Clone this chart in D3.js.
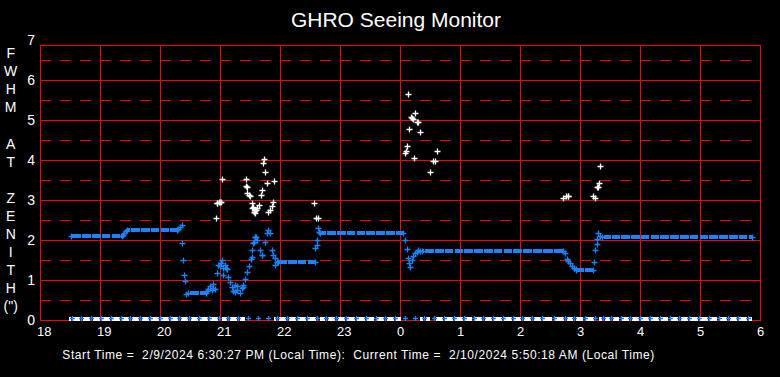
<!DOCTYPE html>
<html><head><meta charset="utf-8">
<script src="https://cdn.jsdelivr.net/npm/d3@7"></script>
<style>html,body{margin:0;background:#000;overflow:hidden}svg{display:block}</style>
</head><body>
<svg id="c" width="780" height="377"></svg>
<script>
const title = "GHRO Seeing Monitor";
const yLabelLines = ["F","W","H","M","","A","T","","Z","E","N","I","T","H","(\")"];
const footer = "Start Time =  2/9/2024 6:30:27 PM (Local Time):  Current Time =  2/10/2024 5:50:18 AM (Local Time)";
const hourTicks = [18,19,20,21,22,23,24,25,26,27,28,29,30];
const hourLabels = ["18","19","20","21","22","23","0","1","2","3","4","5","6"];
const fwhmTicks = [0,1,2,3,4,5,6,7];
const fwhmHalfTicks = [0.5,1.5,2.5,3.5,4.5,5.5,6.5];
const fwhmFrameTop = 6.875;

// steady blue FWHM runs: [startHour, endHour, fwhm]
const blueRuns = [
  [18.51,19.36,2.10],[19.45,20.28,2.24],[20.46,20.76,0.67],[21.97,22.58,1.46],
  [22.67,24.045,2.17],[24.36,26.72,1.73],[26.94,27.22,1.25],[27.36,29.86,2.07]
];
// individual blue FWHM samples: [hour, fwhm]
const blueScatter = [
  [19.38,2.13],[19.40,2.18],[19.43,2.22],
  [20.30,2.27],[20.33,2.33],[20.36,2.37],
  [20.372,1.92],[20.388,1.49],[20.405,1.12],[20.422,0.98],[20.438,0.64],
  [20.783,0.72],[20.808,0.78],[20.833,0.85],[20.862,0.75],[20.885,0.89],[20.888,0.79],[20.917,0.77],
  [20.945,1.17],[20.972,1.37],[21.0,1.35],[21.017,1.42],[21.028,1.5],[21.055,1.29],[21.055,1.12],
  [21.083,1.37],[21.1,1.30],[21.112,1.27],[21.138,1.08],[21.167,0.96],[21.195,0.83],[21.222,0.73],
  [21.25,0.88],[21.25,0.71],[21.278,0.75],[21.278,0.86],[21.333,0.68],[21.362,0.79],[21.378,0.83],
  [21.388,0.88],[21.417,1.02],[21.445,1.19],[21.483,1.34],[21.512,1.53],[21.528,1.58],[21.538,1.75],
  [21.555,1.92],[21.567,1.96],[21.583,2.08],[21.59,2.08],[21.6,2.08],[21.622,2.0],[21.667,1.75],
  [21.695,1.63],[21.70,1.63],[21.75,1.96],[21.778,2.17],[21.805,2.25],[21.833,2.17],[21.862,1.75],
  [21.878,1.63],[21.917,1.54],[21.917,1.37],[21.945,1.46],
  [22.583,1.79],[22.612,2.0],[22.612,1.88],[22.638,2.29],[22.65,2.2],
  [24.083,2.0],[24.112,1.77],[24.138,1.54],[24.155,1.42],[24.167,1.33],[24.195,1.5],[24.222,1.6],
  [24.25,1.67],[24.278,1.7],[24.305,1.75],[24.333,1.73],
  [26.75,1.67],[26.778,1.52],[26.8,1.48],[26.833,1.42],[26.867,1.36],[26.9,1.3],[26.925,1.27],
  [27.24,1.44],[27.25,1.75],[27.278,1.89],[27.288,2.02],[27.305,2.17],[27.333,2.1]
];
// blue samples at zero, minutes after 18:00
const blueZeroMinutes = [
  31.7,41.5,51.3,61.1,70.9,80.7,90.5,100.3,110.1,119.9,129.7,139.5,149.3,159.1,168.9,
  178.7,188.5,198.3,208.1,217.9,227.7,237.5,247.3,257.1,266.9,276.7,286.5,296.3,306.1,
  315.9,325.7,335.5,345.3,355.1,364.9,374.7,384.5,394.3,404.1,413.9,423.7,433.5,443.3,
  453.1,462.9,472.7,482.5,492.3,502.1,513.5,525,534.5,544.5,554.6,563.5,571.5,580.5,
  590.3,600.1,609.9,619.7,629.5,639.3,649.1,658.9,668.7,678.5,688.3,698.1,707.9
];
// white samples: runs at zero [startHour, endHour]
const whiteZeroRuns = [
  [18.497,20.947],[21.045,21.405],[21.917,22.577],[22.683,24.007],
  [24.35,24.483],[24.617,26.723],[26.8,27.217],[27.333,29.845]
];
// white individual samples [hour, fwhm]
const whiteScatter = [
  [20.933,2.56],[20.945,2.92],[20.955,2.92],[20.99,2.94],[21.005,2.95],[21.017,2.95],[21.038,3.52],
  [21.428,3.52],[21.433,3.35],[21.445,3.33],[21.455,3.18],[21.488,3.13],[21.5,3.10],[21.528,2.93],
  [21.528,2.79],[21.555,2.83],[21.567,2.71],[21.583,2.75],[21.59,2.67],[21.6,2.75],[21.62,2.80],
  [21.655,2.88],[21.678,3.13],[21.695,3.25],[21.722,3.92],[21.733,4.02],[21.755,3.69],[21.778,3.42],
  [21.805,2.71],[21.833,2.75],[21.862,2.85],[21.888,2.96],[21.9,3.47],
  [22.572,2.92],[22.598,2.54],[22.625,2.54],
  [24.083,4.17],[24.1,4.23],[24.122,4.35],[24.138,5.64],[24.155,4.77],[24.178,5.07],[24.2,5.05],
  [24.222,5.02],[24.238,4.04],[24.25,5.17],[24.28,4.94],[24.305,4.94],[24.333,4.69],
  [24.5,3.69],[24.55,3.98],[24.583,3.98],[24.612,4.23],
  [26.722,3.04],[26.767,3.11],[26.792,3.11],[26.805,3.10],
  [27.222,3.10],[27.25,3.04],[27.275,3.32],[27.3,3.32],[27.322,3.42],[27.338,3.85]
];

const RED = "#ff0000", BLUE = "#1e82fa", WHITE = "#ffffff";
const FONT = "'Liberation Sans', Arial, sans-serif";
const svg = d3.select("#c");
svg.append("rect").attr("width",780).attr("height",377).attr("fill","#000");

const x = d3.scaleLinear().domain([18,30]).range([40,760]);
const y = d3.scaleLinear().domain([0,7]).range([320,40]);
const px = v => Math.round(v) + 0.5;

const grid = svg.append("g").attr("stroke",RED).attr("stroke-width",1).attr("shape-rendering","crispEdges");
grid.selectAll("line.dash").data(fwhmHalfTicks).join("line")
  .attr("x1",x(18)).attr("x2",x(30)).attr("y1",d=>px(y(d))).attr("y2",d=>px(y(d)))
  .attr("stroke-dasharray","11,9");
grid.selectAll("line.h").data(fwhmTicks.filter(d=>d>0 && d<fwhmFrameTop)).join("line")
  .attr("x1",x(18)).attr("x2",x(30)).attr("y1",d=>px(y(d))).attr("y2",d=>px(y(d)));
grid.selectAll("line.v").data(hourTicks).join("line")
  .attr("x1",d=>px(x(d))).attr("x2",d=>px(x(d))).attr("y1",y(fwhmFrameTop)).attr("y2",y(0));
grid.append("rect").attr("x",px(x(18))).attr("y",px(y(fwhmFrameTop)))
  .attr("width",Math.round(x(30)-x(18))).attr("height",Math.round(y(0)-y(fwhmFrameTop)))
  .attr("fill","none");

// axes
const xAxis = svg.append("g").attr("transform",`translate(0,${y(0)})`)
  .call(d3.axisBottom(x).tickValues(hourTicks).tickFormat((d,i)=>hourLabels[i]).tickSize(0).tickPadding(6.5));
xAxis.select(".domain").remove();
xAxis.selectAll("text").attr("fill",WHITE).attr("font-family",FONT).attr("font-size",13)
  .attr("text-anchor","start").attr("dx",-3.5);

const yAxis = svg.append("g").attr("transform",`translate(${x(18)},0)`)
  .call(d3.axisLeft(y).tickValues(fwhmTicks).tickFormat(d3.format("d")).tickSize(0).tickPadding(5));
yAxis.select(".domain").remove();
yAxis.selectAll("text").attr("fill",WHITE).attr("font-family",FONT).attr("font-size",14);

// title
svg.append("text").attr("x",396).attr("y",27).attr("text-anchor","middle")
  .attr("fill",WHITE).attr("font-family",FONT).attr("font-size",21).text(title);

// vertical y label
svg.append("g").selectAll("text").data(yLabelLines).join("text")
  .attr("x",10.7).attr("y",(d,i)=>58.3 + i*18.05).attr("text-anchor","middle")
  .attr("fill",WHITE).attr("font-family",FONT).attr("font-size",14).text(d=>d);

// footer
svg.append("text").attr("x",62.3).attr("y",359).attr("fill",WHITE)
  .attr("font-family",FONT).attr("font-size",12).attr("xml:space","preserve")
  .style("white-space","pre").attr("textLength",592).attr("lengthAdjust","spacing").text(footer);

const plus = "M-3,0H3M0,-3V3";
const plusSmall = "M-2.5,0H2.5M0,-2.5V2.5";
const zeroHours = blueZeroMinutes.map(m => 18 + m/60);

function pieces(s, e){
  const cuts = zeroHours.filter(h => h > s && h < e);
  const pts = [{h:s,z:false}, ...cuts.map(h=>({h,z:true})), {h:e,z:false}];
  const out = [];
  for (let i=0;i<pts.length-1;i++) out.push([pts[i], pts[i+1]]);
  return out;
}

// white zero runs (bottom)
const wz = svg.append("g").attr("fill",WHITE).attr("shape-rendering","crispEdges");
whiteZeroRuns.forEach(([s,e]) => {
  pieces(s,e).forEach(([a,b]) => {
    const x0 = x(a.h) + (a.z?1.2:-1), x1 = x(b.h) - (b.z?1.2:-1);
    if (x1 > x0) wz.append("rect").attr("x",x0).attr("y",y(0)-3.5).attr("width",x1-x0).attr("height",4);
  });
});

// white scatter
svg.append("g").attr("stroke",WHITE).attr("stroke-width",1.3).attr("fill","none")
  .selectAll("path").data(whiteScatter).join("path")
  .attr("transform",d=>`translate(${Math.round(x(d[0]))+0.5},${Math.round(y(d[1]))+0.5})`).attr("d",plus);

// blue runs
const br = svg.append("g").attr("fill",BLUE).attr("shape-rendering","crispEdges");
blueRuns.forEach(([s,e,v]) => {
  pieces(s,e).forEach(([a,b]) => {
    const x0 = x(a.h) + (a.z?0.6:0), x1 = x(b.h) - (b.z?0.6:0);
    if (x1 > x0) br.append("rect").attr("x",x0).attr("y",y(v)-2).attr("width",x1-x0).attr("height",4);
  });
});
const blueEnds = blueRuns.flatMap(([s,e,v]) => [[s,v],[e,v]]);
const bluePts = svg.append("g").attr("stroke",BLUE).attr("stroke-width",1.3).attr("fill","none");
bluePts.selectAll("path.e").data(blueEnds).join("path")
  .attr("transform",d=>`translate(${Math.round(x(d[0]))+0.5},${Math.round(y(d[1]))+0.5})`).attr("d",plus);
bluePts.selectAll("path.s").data(blueScatter).join("path")
  .attr("transform",d=>`translate(${Math.round(x(d[0]))+0.5},${Math.round(y(d[1]))+0.5})`).attr("d",plus);
bluePts.selectAll("path.z").data(zeroHours).join("path")
  .attr("transform",d=>`translate(${Math.round(x(d))+0.5},${Math.round(y(0))-1.5})`).attr("d",plusSmall);
</script>
</body></html>
